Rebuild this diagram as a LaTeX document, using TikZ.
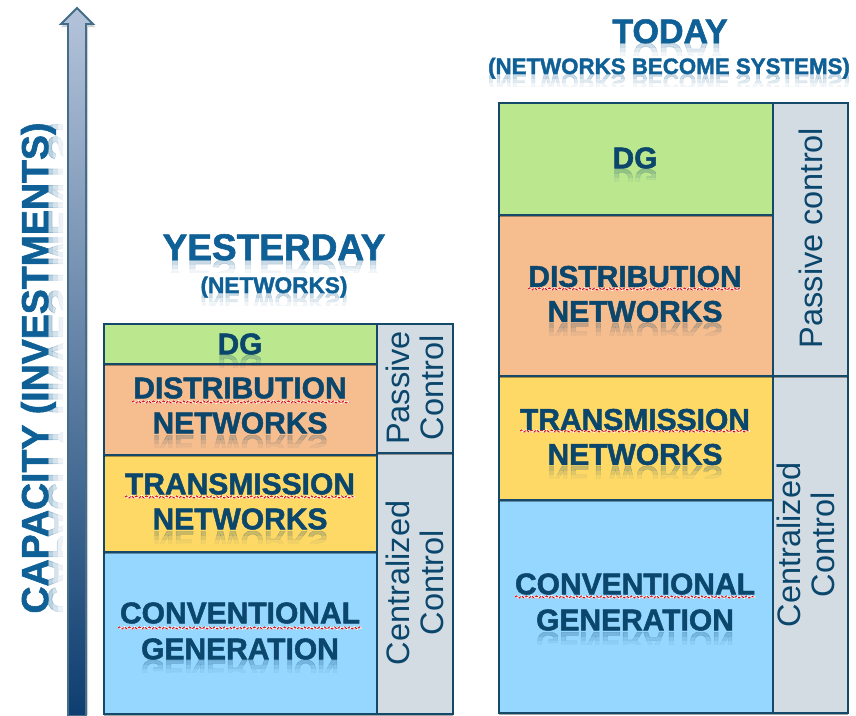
\documentclass[tikz,border=0pt]{standalone}
\usepackage{fontspec}
\setmainfont[BoldFeatures={FakeBold=1.6}]{Liberation Sans}
\usetikzlibrary{shadows,decorations.pathmorphing}
\definecolor{edgeblue}{HTML}{14496A}
\definecolor{titleblue}{HTML}{0F6096}
\definecolor{boxtext}{HTML}{0B466C}
\definecolor{dgfill}{HTML}{BBE78F}
\definecolor{distfill}{HTML}{F6BD8E}
\definecolor{transfill}{HTML}{FFD966}
\definecolor{genfill}{HTML}{95D7FF}
\definecolor{ctrlfill}{HTML}{D3DCE3}
\newcommand{\fs}[1]{\fontsize{#1}{#1}\selectfont}
\newcommand{\mirror}[1]{\scalebox{1}[-1]{#1}}
% \refl{id}{x}{baseline y}{half width}{size}{colour}{text}
\newcommand{\refl}[7]{%
  \foreach \h/\o in {4/.10,8/.08,12/.05}{%
    \begin{scope}
      \clip (#2-#4,#3) rectangle (#2+#4,#3+\h);
      \node[anchor=base,inner sep=0pt,text=#6,text opacity=\o,font=\bfseries\fs{#5}]
        (refl#1\h) at (#2,#3) {\mirror{#7}};
    \end{scope}}}
\tikzset{
  layer/.style={draw=edgeblue,line width=1.5pt,inner sep=0pt,outer sep=0pt,anchor=north west,
    drop shadow={shadow xshift=0pt,shadow yshift=-2pt,opacity=.35,fill=black}},
  ctrl/.style={layer,fill=ctrlfill},
  boxlabel/.style={align=center,inner sep=0pt,text=boxtext,font=\bfseries\fs{30}},
  ctrllabel/.style={align=center,inner sep=0pt,rotate=90,text=boxtext,font=\fs{32.5}},
  titletext/.style={inner sep=0pt,anchor=base,text=titleblue,font=\bfseries},
  squiggle/.style={decorate,decoration={snake,amplitude=1.1pt,segment length=5pt}},
}
\newcommand{\wavy}[3]{%
  \draw[white,line width=1.6pt,squiggle] (#1,#3) -- (#2,#3);
  \draw[red!85!black,line width=.9pt,dash pattern=on 3pt off 1.5pt,squiggle] (#1,#3) -- (#2,#3);}
\begin{document}
\begin{tikzpicture}[x=1pt,y=-1pt]
\useasboundingbox[fill=white] (0,0) rectangle (856,715);

% capacity arrow
\fill[black,opacity=.18] (78,10) -- (95,27) -- (88,27) -- (88,715) -- (68,715) -- (68,27) -- (61,27) -- cycle;
\draw[draw=edgeblue!80!white,line width=1.9pt,line join=miter,
  top color={rgb,255:red,180;green,195;blue,218},middle color={rgb,255:red,143;green,162;blue,190},
  bottom color={rgb,255:red,14;green,62;blue,112}]
  (77,8) -- (93,24) -- (86,24) -- (86,716) -- (68,716) -- (68,24) -- (61,24) -- cycle;

% capacity label reflection and text
\foreach \h/\o in {5/.14,10/.10,15/.07}{%
  \begin{scope}
    \clip (48,100) rectangle (48+\h,640);
    \node[anchor=base,inner sep=0pt,rotate=90,text=titleblue,text opacity=\o,font=\bfseries\fs{37.5}]
      (caprefl\h) at (48,368) {\mirror{CAPACITY (INVESTMENTS)}};
  \end{scope}}
\node[anchor=base,inner sep=0pt,rotate=90,text=titleblue,font=\bfseries\fs{37.5}]
  (capacity) at (48,368) {CAPACITY (INVESTMENTS)};

% left column
\node[layer,fill=genfill,minimum width=273pt,minimum height=162pt] (lgen) at (104,552) {};
\node[layer,fill=transfill,minimum width=273pt,minimum height=97pt] (ltrans) at (104,455) {};
\node[layer,fill=distfill,minimum width=273pt,minimum height=91pt] (ldist) at (104,364) {};
\node[layer,fill=dgfill,minimum width=273pt,minimum height=40pt] (ldg) at (104,324) {};
\node[ctrl,minimum width=76pt,minimum height=261pt] (lcent) at (377,453) {};
\node[ctrl,minimum width=76pt,minimum height=129pt] (lpass) at (377,324) {};

% right column
\node[layer,fill=genfill,minimum width=274pt,minimum height=213pt] (rgen) at (499,500) {};
\node[layer,fill=transfill,minimum width=274pt,minimum height=124pt] (rtrans) at (499,376) {};
\node[layer,fill=distfill,minimum width=274pt,minimum height=161pt] (rdist) at (499,215) {};
\node[layer,fill=dgfill,minimum width=274pt,minimum height=112pt] (rdg) at (499,103) {};
\node[ctrl,minimum width=75pt,minimum height=337pt] (rcent) at (773,376) {};
\node[ctrl,minimum width=75pt,minimum height=273pt] (rpass) at (773,103) {};

% reflections of the box labels
\refl{a}{240}{355}{40}{30}{boxtext}{DG}
\refl{b}{240}{435}{110}{30}{boxtext}{NETWORKS}
\refl{c}{240}{531}{110}{30}{boxtext}{NETWORKS}
\refl{d}{240}{660}{115}{30}{boxtext}{GENERATION}
\refl{e}{635}{169}{40}{30}{boxtext}{DG}
\refl{f}{635}{323}{110}{30}{boxtext}{NETWORKS}
\refl{g}{635}{466}{110}{30}{boxtext}{NETWORKS}
\refl{h}{635}{632}{115}{30}{boxtext}{GENERATION}

% spell-check underlines
\wavy{132}{350}{402}
\wavy{125}{355}{497}
\wavy{118}{362}{628}
\wavy{528}{742}{289}
\wavy{520}{750}{431}
\wavy{515}{755}{597}

% box labels
\node[boxlabel] at (240,344) (ldgt) {DG};
\node[boxlabel] at (240,405.5) (ldistt) {DISTRIBUTION\\[5pt]NETWORKS};
\node[boxlabel] at (240,501.5) (ltranst) {TRANSMISSION\\[5pt]NETWORKS};
\node[boxlabel] at (240,631) (lgent) {CONVENTIONAL\\[6pt]GENERATION};
\node[boxlabel] at (635,158) (rdgt) {DG};
\node[boxlabel] at (635,294) (rdistt) {DISTRIBUTION\\[5pt]NETWORKS};
\node[boxlabel] at (635,437) (rtranst) {TRANSMISSION\\[5pt]NETWORKS};
\node[boxlabel] at (635,602) (rgent) {CONVENTIONAL\\[6pt]GENERATION};

% control labels
\node[ctrllabel] at (415,388) (lpasst) {Passive\\[1pt]Control};
\node[ctrllabel] at (415,583) (lcentt) {Centralized\\[1pt]Control};
\node[ctrllabel] at (811,238) (rpasst) {Passive control};
\node[ctrllabel] at (806,545) (rcentt) {Centralized\\[1pt]Control};

% titles
\refl{t}{274}{260}{120}{37}{titleblue}{YESTERDAY}
\node[titletext,font=\bfseries\fs{37}] at (274,260) (yest) {YESTERDAY};
\refl{u}{274}{293}{80}{22.6}{titleblue}{(NETWORKS)}
\node[titletext,font=\bfseries\fs{22.6}] at (274,293) (yestsub) {(NETWORKS)};
\refl{v}{670}{43}{65}{34}{titleblue}{TODAY}
\node[titletext,font=\bfseries\fs{34}] at (670,43) (today) {TODAY};
\refl{w}{669}{74}{190}{22.3}{titleblue}{(NETWORKS BECOME SYSTEMS)}
\node[titletext,font=\bfseries\fs{22.3}] at (669,74) (todaysub) {(NETWORKS BECOME SYSTEMS)};
\end{tikzpicture}
\end{document}
